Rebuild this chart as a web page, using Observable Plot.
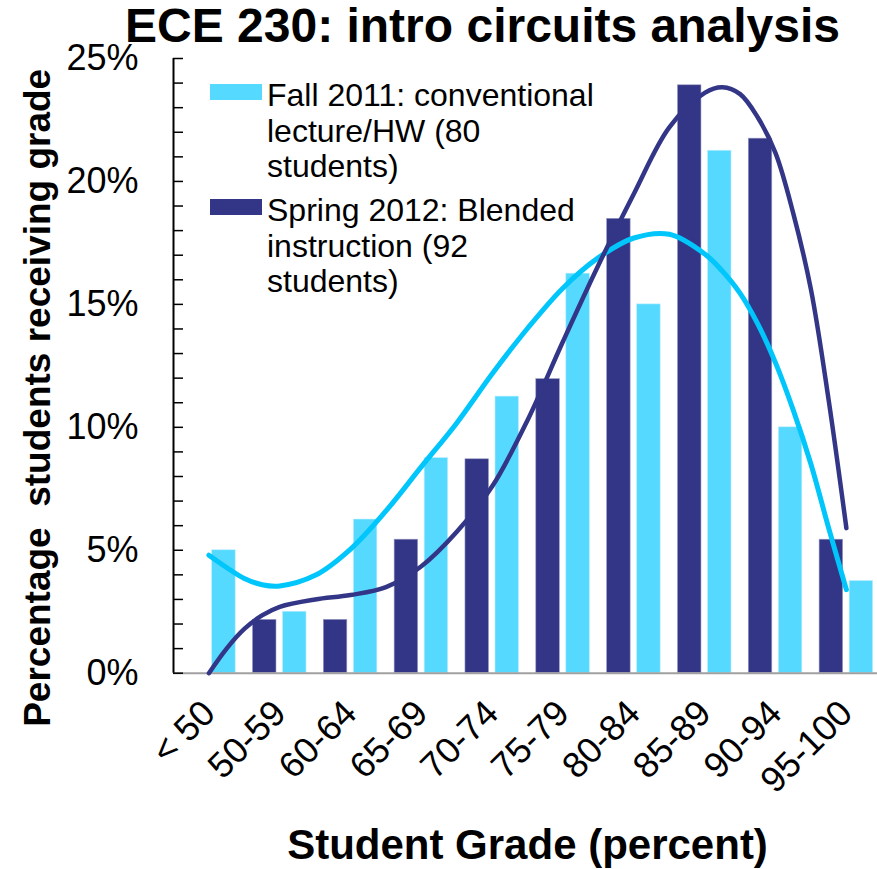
<!DOCTYPE html>
<html>
<head>
<meta charset="utf-8">
<script src="https://cdn.jsdelivr.net/npm/d3@7"></script>
<script src="https://cdn.jsdelivr.net/npm/@observablehq/plot@0.6"></script>
<style>
  body { margin: 0; background: white; font-family: "Liberation Sans", Arial, sans-serif; }
  #wrap { position: relative; width: 877px; height: 869px; overflow: hidden; }
  #title { position: absolute; left: 0; top: 0; width: 877px; padding-left: 88px; box-sizing: border-box; text-align: center; font-weight: bold; font-size: 48px; line-height: 52px; color: #000; white-space: nowrap; }
  #chart { position: absolute; left: 0; top: 50px; }
  #xtitle { position: absolute; left: 0; top: 821px; width: 877px; padding-left: 178px; box-sizing: border-box; text-align: center; font-weight: bold; font-size: 42px; line-height: 48px; color: #000; white-space: nowrap; }
  .leg { position: absolute; left: 210px; font-size: 32px; line-height: 35.7px; color: #000; }
  .leg .sw { position: absolute; left: 0; width: 52px; height: 16px; }
  .leg .tx { position: absolute; left: 57px; white-space: pre; }
</style>
</head>
<body>
<div id="wrap">
  <div id="title">ECE 230: intro circuits analysis</div>
  <div id="chart"></div>
  <div id="xtitle">Student Grade (percent)</div>
  <div id="legend"></div>
</div>
<script>
// ---- data ----
const categories = ["< 50", "50-59", "60-64", "65-69", "70-74", "75-79", "80-84", "85-89", "90-94", "95-100"];
const fall2011 = [5.0, 2.5, 6.25, 8.75, 11.25, 16.25, 15.0, 21.25, 10.0, 3.75];     // % of 80 students
const spring2012 = [0, 2.17, 2.17, 5.43, 8.70, 11.96, 18.48, 23.91, 21.74, 5.43];   // % of 92 students
const seriesNames = ["Fall 2011: conventional\nlecture/HW (80\nstudents)", "Spring 2012: Blended\ninstruction (92\nstudents)"];
const yTicks = [0, 5, 10, 15, 20, 25];
// trendline points (position in category units)
const trendPos = [0, 0.25, 0.5, 0.75, 1, 1.5, 2, 2.5, 3, 3.5, 4, 4.5, 5, 5.5, 6, 6.5, 7, 7.25, 7.5, 7.75, 8, 8.25, 8.5, 8.75, 9];
const fallTrend = [4.8, 4.3, 3.85, 3.6, 3.55, 3.98, 5.05, 6.6, 8.4, 10.18, 12.18, 14.03, 15.67, 16.9, 17.7, 17.85, 17.05, 16.35, 15.45, 14.2, 12.62, 10.7, 8.5, 5.9, 3.4];
const springTrend = [0, 1.0, 1.8, 2.35, 2.7, 3.0, 3.18, 3.5, 4.35, 5.75, 7.6, 10.3, 13.5, 16.6, 19.5, 22.2, 23.6, 23.83, 23.55, 22.6, 21.15, 18.7, 15.6, 11.1, 5.9];

const lightColor = "#55d9ff";
const darkColor = "#333687";
const lightLine = "#00c6fb";

const rows = categories.map((c, i) => ({i, cat: c, fall: fall2011[i], spring: spring2012[i]}));
const fallPts = trendPos.map((p, k) => ({p, v: fallTrend[k]}));
const springPts = trendPos.map((p, k) => ({p, v: springTrend[k]}));

const chart = Plot.plot({
  width: 877,
  height: 760,
  marginTop: 8,
  marginBottom: 137.3,
  marginLeft: 173,
  marginRight: 0,
  style: {fontFamily: "'Liberation Sans', Arial, sans-serif", fontSize: "30px", overflow: "visible", background: "transparent"},
  x: {type: "linear", domain: [-0.5, 9.5], range: [173, 881.3]},
  y: {domain: [0, 25]},
  marks: [
    Plot.rectY(rows, {x1: d => d.i - 0.378, x2: d => d.i - 0.046, y: "spring", fill: darkColor, stroke: "#9a9cc4", strokeWidth: 0.6}),
    Plot.rectY(rows, {x1: d => d.i + 0.046, x2: d => d.i + 0.378, y: "fall", fill: lightColor, stroke: "#c0efff", strokeWidth: 0.6}),
    Plot.ruleY([0], {stroke: "#a0a0a0", strokeWidth: 2}),
    Plot.ruleX([-0.5], {stroke: "#000", strokeWidth: 2}),
    Plot.axisY({ticks: d3.range(0, 26), tickSize: -10, tickFormat: () => "", label: null, stroke: "#000", strokeWidth: 1.5}),
    Plot.axisY({ticks: yTicks, tickSize: 0, tickPadding: 35, tickFormat: d => d + "%", label: null, fontSize: 36, fill: "#000"}),
    Plot.axisX({ticks: d3.range(categories.length), tickFormat: i => categories[i], label: null, tickRotate: -45, tickSize: 0, tickPadding: 34, fontSize: 36, fill: "#000"}),
    Plot.line(fallPts, {x: "p", y: "v", stroke: lightLine, strokeWidth: 5, curve: "catmull-rom"}),
    Plot.line(springPts, {x: "p", y: "v", stroke: darkColor, strokeWidth: 4.5, curve: "catmull-rom"}),
    Plot.text(["Percentage  students receiving grade"], {frameAnchor: "left", textAnchor: "middle", rotate: -90, dx: -135, dy: 32, fontSize: 37, fontWeight: "bold", fill: "#000"})
  ]
});
document.getElementById("chart").appendChild(chart);

// legend (inside the plot area, top-left)
const legend = document.getElementById("legend");
const legTops = [78, 193];
const legColors = [lightColor, darkColor];
seriesNames.forEach((name, k) => {
  const item = document.createElement("div");
  item.className = "leg";
  item.style.top = legTops[k] + "px";
  const sw = document.createElement("div");
  sw.className = "sw";
  sw.style.background = legColors[k];
  sw.style.top = "6px";
  const tx = document.createElement("div");
  tx.className = "tx";
  tx.textContent = name;
  item.appendChild(sw);
  item.appendChild(tx);
  legend.appendChild(item);
});
</script>
</body>
</html>
